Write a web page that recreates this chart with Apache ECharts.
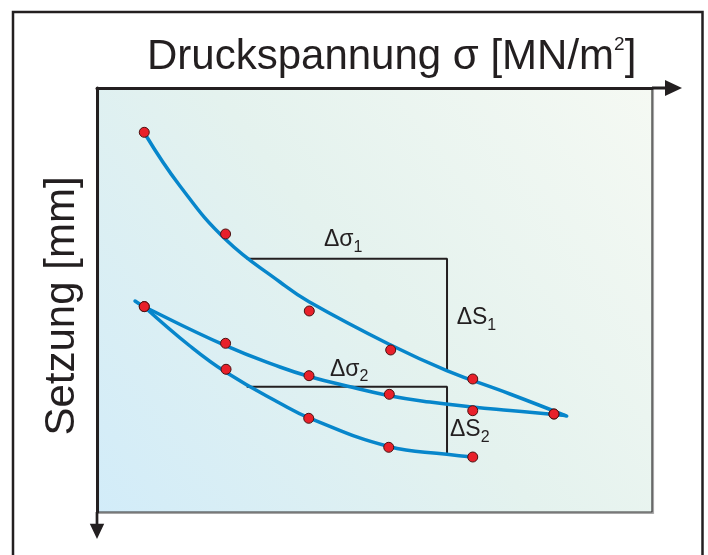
<!DOCTYPE html>
<html>
<head>
<meta charset="utf-8">
<script src="https://cdn.jsdelivr.net/npm/echarts@6/dist/echarts.min.js"></script>
<style>
html,body{margin:0;padding:0;background:#ffffff;}
#chart{width:708px;height:555px;}
</style>
</head>
<body>
<div id="chart"></div>
<script>
// Plate load test: sigma [MN/m²] vs settlement s [mm]
const loadingPoints   = [[0.0511,1.045],[0.139,3.443],[0.2295,5.259],[0.3175,6.179],[0.4062,6.863],[0.494,7.689]];
const unloadingPoints = [[0.494,7.689],[0.4062,7.611],[0.316,7.224],[0.2292,6.785],[0.139,6.021],[0.0511,5.156]];
const reloadingPoints = [[0.0511,5.156],[0.1395,6.634],[0.2289,7.790],[0.3154,8.474],[0.4062,8.703]];

// Fitted curves
const loadingCurve   = [[0.0526,1.108],[0.0897,2.311],[0.1391,3.573],[0.1978,4.575],[0.2292,5.040],[0.3175,6.061],[0.3781,6.663],[0.4465,7.217],[0.5078,7.736]];
const unloadingCurve = [[0.0411,5.024],[0.0511,5.158],[0.1391,6.078],[0.1978,6.580],[0.2303,6.809],[0.2699,7.028],[0.3160,7.257],[0.3600,7.406],[0.4062,7.524],[0.4465,7.606],[0.5059,7.724]];
const reloadingCurve = [[0.0511,5.158],[0.1005,6.085],[0.1395,6.705],[0.1978,7.436],[0.2303,7.790],[0.3154,8.455],[0.3781,8.637],[0.4062,8.703]];

// Evaluation brackets
const bracket1 = [[0.1618,4.028],[0.3784,4.028],[0.3784,6.675]];
const bracket2 = [[0.1618,7.045],[0.3784,7.045],[0.3784,8.656]];

// Bracket labels: [sigma, s], main text, subscript
const labelPos  = [[0.2454,3.585],[0.3888,5.420],[0.2519,6.637],[0.3816,8.066]];
const labelMain = ['Δσ','ΔS','Δσ','ΔS'];
const labelSub  = ['1','1','2','2'];

const xAxisTitle = 'Druckspannung σ [MN/m';
const yAxisTitle = 'Setzung [mm]';

const INK = '#231f20';
const BLUE = '#0786cb';
const FONT = 'Liberation Sans, Arial, sans-serif';

const chart = echarts.init(document.getElementById('chart'), null, {renderer:'canvas'});

const arrowPath = 'path://M8,0 L16,17 L9.5,17 L9.5,30 L6.5,30 L6.5,17 L0,17 Z';

const pointStyle = {color:'#e8202a', borderColor:'#4a1212', borderWidth:1, opacity:1};

const curveLine = (data) => ({
  type:'line', data:data, smooth:0.45, symbol:'none', silent:true, z:3,
  lineStyle:{color:BLUE, width:3.5, cap:'round'}
});

const option = {
  animation:false,
  backgroundColor:'#ffffff',
  grid:{
    left:97, top:88, width:555, height:424,
    show:true,
    borderColor:'#333333', borderWidth:1.2,
    shadowColor:'rgba(0,0,0,0.25)', shadowOffsetX:1.5, shadowOffsetY:1.5, shadowBlur:0,
    backgroundColor:{
      type:'linear', x:0, y:1, x2:1, y2:0,
      colorStops:[
        {offset:0, color:'#d2ecf9'},
        {offset:0.5, color:'#e4f2ee'},
        {offset:1, color:'#f5f9f3'}
      ]
    }
  },
  xAxis:{
    type:'value', min:0, max:0.6, position:'top',
    axisLine:{onZero:false, show:true, lineStyle:{color:INK, width:3},
      symbol:['none', arrowPath], symbolSize:[16,30], symbolOffset:[0,15]},
    axisTick:{show:false}, axisLabel:{show:false}, splitLine:{show:false}
  },
  yAxis:{
    type:'value', min:0, max:10, inverse:true, position:'left',
    axisLine:{onZero:false, show:true, lineStyle:{color:INK, width:3},
      symbol:[arrowPath, 'none'], symbolSize:[16,27], symbolOffset:[-13.5,0]},
    axisTick:{show:false}, axisLabel:{show:false}, splitLine:{show:false}
  },
  graphic:[
    {type:'rect', silent:true, z:100,
      shape:{x:13, y:12, width:689.5, height:600},
      style:{fill:'none', stroke:INK, lineWidth:2.5}},
    {type:'text', silent:true, z:100, x:147, y:57.2,
      style:{
        text:'{m|' + xAxisTitle + '}{p|2}{m|]}',
        align:'left', verticalAlign:'middle', textAlign:'left', textVerticalAlign:'middle',
        rich:{
          m:{fontSize:42, fontFamily:FONT, fill:INK, color:INK, lineHeight:44},
          p:{fontSize:19, fontFamily:FONT, fill:INK, color:INK, verticalAlign:'top'}
        }
      }},
    {type:'text', silent:true, z:100, x:62, y:306, rotation:Math.PI/2,
      style:{
        text:yAxisTitle, fontSize:42, fontFamily:FONT, fill:INK,
        align:'center', verticalAlign:'middle', textAlign:'center', textVerticalAlign:'middle'
      }}
  ],
  series:[
    {type:'line', data:bracket1, symbol:'none', silent:true, z:2,
      lineStyle:{color:INK, width:2}},
    {type:'line', data:bracket2, symbol:'none', silent:true, z:2,
      lineStyle:{color:INK, width:2}},
    curveLine(loadingCurve),
    curveLine(unloadingCurve),
    curveLine(reloadingCurve),
    {type:'scatter', data:loadingPoints, symbol:'circle', symbolSize:10, z:4, silent:true, itemStyle:pointStyle},
    {type:'scatter', data:unloadingPoints, symbol:'circle', symbolSize:10, z:4, silent:true, itemStyle:pointStyle},
    {type:'scatter', data:reloadingPoints, symbol:'circle', symbolSize:10, z:4, silent:true, itemStyle:pointStyle},
    {type:'scatter', symbolSize:0, z:5, silent:true,
      itemStyle:{color:'rgba(0,0,0,0)', opacity:1},
      data:labelPos.map((p,i)=>({value:p, main:labelMain[i], sub:labelSub[i]})),
      label:{
        show:true, position:[0,0], align:'left', verticalAlign:'middle', color:INK, opacity:1,
        formatter:(p)=>'{m|' + p.data.main + '}{s|' + p.data.sub + '}',
        rich:{
          m:{fontSize:23, fontFamily:FONT, color:INK, lineHeight:31},
          s:{fontSize:16, fontFamily:FONT, color:INK, lineHeight:16, verticalAlign:'bottom'}
        }
      }}
  ]
};
chart.setOption(option);
</script>
</body>
</html>
